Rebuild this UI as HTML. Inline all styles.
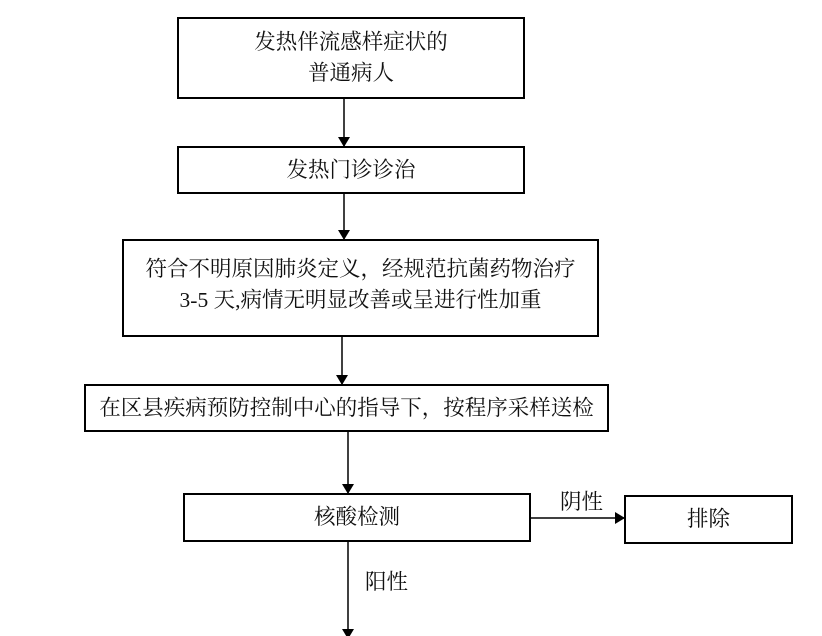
<!DOCTYPE html>
<html><head><meta charset="utf-8"><style>
body{margin:0;width:822px;height:636px;background:#fff;position:relative;overflow:hidden;font-family:"Liberation Serif","Noto Serif CJK SC",serif;font-size:21.5px;color:#111}
.b{position:absolute;border:2px solid #000;box-sizing:border-box;display:flex;align-items:center;justify-content:center;text-align:center;line-height:31px}
.t{position:absolute;white-space:nowrap;line-height:24px}
</style></head><body>
<div class="b" style="left:177px;top:17px;width:348px;height:82px">发热伴流感样症状的<br>普通病人</div>
<div class="b" style="left:177px;top:146px;width:348px;height:48px">发热门诊诊治</div>
<div class="b" style="left:122px;top:239px;width:477px;height:98px;align-items:flex-start;padding-top:13px">符合不明原因肺炎定义，经规范抗菌药物治疗<br>3-5 天,病情无明显改善或呈进行性加重</div>
<div class="b" style="left:84px;top:384px;width:525px;height:48px">在区县疾病预防控制中心的指导下，按程序采样送检</div>
<div class="b" style="left:183px;top:493px;width:348px;height:49px">核酸检测</div>
<div class="b" style="left:624px;top:495px;width:169px;height:49px">排除</div>
<div class="t" style="left:560px;top:490px">阴性</div>
<div class="t" style="left:365px;top:570px">阳性</div>
<svg width="822" height="636" style="position:absolute;left:0;top:0">
<defs><marker id="a" markerWidth="10" markerHeight="12" refX="9" refY="6" orient="auto" markerUnits="userSpaceOnUse"><path d="M0,0 L10,6 L0,12z" fill="#000"/></marker></defs>
<g stroke="#000" stroke-width="1.5" marker-end="url(#a)">
<line x1="344" y1="99" x2="344" y2="146"/>
<line x1="344" y1="194" x2="344" y2="239"/>
<line x1="342" y1="337" x2="342" y2="384"/>
<line x1="348" y1="432" x2="348" y2="493"/>
<line x1="348" y1="542" x2="348" y2="638"/>
<line x1="531" y1="518" x2="624" y2="518"/>
</g></svg>
</body></html>
